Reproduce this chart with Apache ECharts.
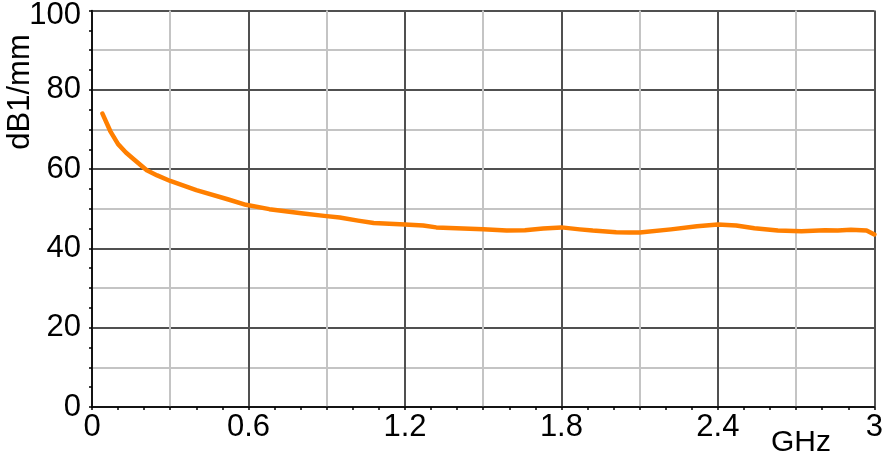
<!DOCTYPE html>
<html>
<head>
<meta charset="utf-8">
<script src="https://cdn.jsdelivr.net/npm/echarts@6/dist/echarts.min.js"></script>
<style>
html,body{margin:0;padding:0;background:#fff;}
#chart{width:886px;height:461px;}
</style>
</head>
<body>
<div id="chart"></div>
<script>
// Frequency in GHz
const freq = [0.04, 0.07, 0.10, 0.13, 0.16, 0.21, 0.25, 0.30, 0.40, 0.52, 0.59, 0.68, 0.81, 0.89, 0.95, 1.02, 1.08, 1.20, 1.27, 1.32, 1.50, 1.59, 1.66, 1.73, 1.80, 1.87, 1.92, 2.01, 2.06, 2.10, 2.22, 2.32, 2.40, 2.47, 2.54, 2.63, 2.72, 2.81, 2.86, 2.91, 2.97, 3.00];
// Attenuation in dB1/mm
const atten = [74.0, 69.6, 66.3, 64.2, 62.5, 59.7, 58.4, 57.0, 54.7, 52.4, 51.0, 49.9, 48.8, 48.2, 47.8, 47.0, 46.4, 46.0, 45.8, 45.3, 44.8, 44.5, 44.6, 45.0, 45.3, 44.8, 44.5, 44.1, 44.0, 44.0, 44.8, 45.6, 46.0, 45.8, 45.1, 44.5, 44.3, 44.6, 44.5, 44.7, 44.5, 43.5];
const xTickLabels = ['0', '0.6', '1.2', '1.8', '2.4', '3'];
const yTickLabels = ['0', '20', '40', '60', '80', '100'];
const yAxisTitle = 'dB1/mm';
const xAxisTitle = 'GHz';

const T = 'rgba(0,0,0,0)';
const DARK = '#505050';
const LIGHT = '#c4c4c4';
const FONT = '"Liberation Sans", Arial, sans-serif';

const chart = echarts.init(document.getElementById('chart'), null, {renderer: 'canvas'});
chart.setOption({
  animation: false,
  backgroundColor: '#fff',
  grid: {left: 92, right: 10, top: 9, bottom: 54, containLabel: false},
  xAxis: {
    type: 'value', min: 0, max: 3, interval: 0.1,
    axisLine: {show: true, onZero: false, lineStyle: {color: '#000', width: 1.5}},
    axisTick: {show: true, length: 3, lineStyle: {color: '#000', width: 1.5}},
    axisLabel: {
      color: '#000', fontSize: 31, fontFamily: FONT, margin: 5,
      showMinLabel: true, showMaxLabel: true,
      formatter: function (v) {
        const k = Math.round(v / 0.6);
        if (Math.abs(v - k * 0.6) < 1e-6) return xTickLabels[k] || '';
        return '';
      }
    },
    splitLine: {show: true, lineStyle: {color: [DARK, T, T, LIGHT, T, T], width: 2}}
  },
  yAxis: {
    type: 'value', min: 0, max: 100, interval: 5,
    axisLine: {show: true, lineStyle: {color: '#000', width: 1.5}},
    axisTick: {show: true, length: 3, lineStyle: {color: '#000', width: 1.5}},
    axisLabel: {
      color: '#000', fontSize: 31, fontFamily: FONT, margin: 11,
      showMinLabel: true, showMaxLabel: true,
      formatter: function (v) {
        if (v % 20 !== 0) return '';
        const lbl = yTickLabels[v / 20];
        if (v === 100) return '{t|' + lbl + '}';
        return lbl;
      },
      rich: {t: {fontSize: 31, fontFamily: FONT, color: '#000', padding: [10, 0, 0, 0]}}
    },
    splitLine: {show: true, lineStyle: {color: [DARK, T, LIGHT, T], width: 2}}
  },
  graphic: [
    {type: 'text', x: 20, y: 92, rotation: Math.PI / 2,
     style: {text: yAxisTitle, fontSize: 31, fontFamily: FONT, fill: '#000', align: 'center', verticalAlign: 'middle'}},
    {type: 'text', x: 801, y: 443,
     style: {text: xAxisTitle, fontSize: 30, fontFamily: FONT, fill: '#000', align: 'center', verticalAlign: 'middle'}}
  ],
  series: [{
    type: 'line',
    data: freq.map((f, i) => [f, atten[i]]),
    showSymbol: false,
    smooth: false,
    lineStyle: {color: '#ff7f00', width: 4.5, join: 'round', cap: 'round'},
    itemStyle: {color: '#ff7f00'},
    z: 5
  }]
});
</script>
</body>
</html>
